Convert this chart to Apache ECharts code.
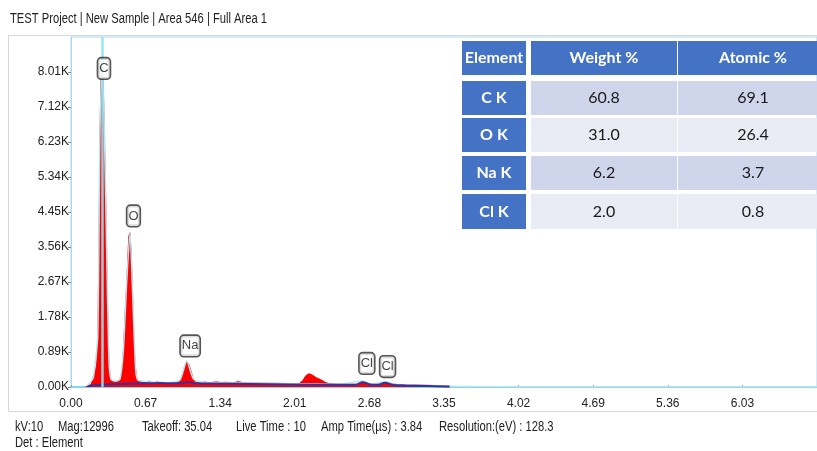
<!DOCTYPE html>
<html>
<head>
<meta charset="utf-8">
<script src="https://cdn.jsdelivr.net/npm/echarts@6/dist/echarts.min.js"></script>
<style>
  html, body { margin: 0; padding: 0; background: #fff; }
  #chart { width: 817px; height: 451px; }
</style>
</head>
<body>
<div id="chart"></div>
<script>
// ---- Spectrum data (energy in keV, intensity in counts) ----
const spectrum = [
  [0.13, 0], [0.14, 20], [0.16, 35], [0.18, 70], [0.19, 160], [0.20, 260], [0.21, 340], [0.22, 300],
  [0.23, 560], [0.24, 1200], [0.25, 3200], [0.26, 6400], [0.27, 7900], [0.28, 8100], [0.29, 7700],
  [0.30, 6400], [0.31, 5000], [0.32, 3400], [0.33, 1800], [0.34, 700], [0.35, 300], [0.36, 180],
  [0.38, 140], [0.40, 130], [0.42, 145], [0.44, 190], [0.45, 260], [0.46, 500], [0.47, 900],
  [0.48, 1500], [0.49, 2100], [0.50, 2600], [0.51, 3300], [0.52, 3850], [0.53, 3920], [0.54, 3400],
  [0.55, 2600], [0.56, 1700], [0.57, 900], [0.58, 450], [0.59, 240], [0.60, 170], [0.62, 150],
  [0.65, 135], [0.68, 125], [0.70, 150], [0.72, 120], [0.75, 115], [0.78, 130], [0.80, 105],
  [0.83, 115], [0.86, 100], [0.90, 105], [0.93, 95], [0.96, 110], [0.98, 170], [1.00, 320],
  [1.02, 520], [1.04, 640], [1.06, 570], [1.08, 380], [1.10, 190], [1.12, 115], [1.15, 110],
  [1.20, 125], [1.25, 105], [1.30, 130], [1.35, 115], [1.40, 120], [1.45, 100], [1.50, 135],
  [1.55, 110], [1.60, 105], [1.70, 100], [1.80, 95], [1.90, 90], [2.00, 85], [2.05, 90],
  [2.08, 160], [2.11, 290], [2.14, 340], [2.17, 300], [2.20, 240], [2.24, 190], [2.28, 125],
  [2.32, 80], [2.40, 70], [2.50, 65], [2.58, 70], [2.62, 140], [2.66, 90], [2.72, 65], [2.78, 70],
  [2.82, 130], [2.86, 80], [2.95, 60], [3.05, 50], [3.15, 45], [3.25, 40], [3.32, 30], [3.36, 5],
  [3.40, 0]
];

// Fitted envelope drawn over the measured counts
const fitCurve = [
  [0.15, 40], [0.20, 240], [0.24, 1300], [0.26, 6500], [0.28, 8150], [0.30, 6500], [0.32, 3500],
  [0.34, 720], [0.36, 190], [0.40, 150], [0.44, 200], [0.47, 920], [0.50, 2650], [0.53, 3950],
  [0.55, 2650], [0.58, 470], [0.60, 180], [0.70, 130], [0.90, 110], [0.98, 180], [1.04, 660],
  [1.10, 200], [1.20, 110], [1.60, 100], [2.00, 85], [2.40, 70], [2.62, 150], [2.70, 70],
  [2.82, 140], [2.90, 65], [3.20, 40], [3.60, 10], [4.50, 5], [6.70, 5]
];

// Continuum (background) estimate
const background = [
  [0.15, 20], [0.20, 40], [0.30, 60], [0.40, 70], [0.50, 80], [0.60, 90], [0.70, 95], [0.80, 100],
  [0.90, 95], [1.00, 95], [1.04, 130], [1.10, 95], [1.30, 85], [1.60, 75], [2.00, 65], [2.40, 55],
  [2.55, 55], [2.62, 120], [2.70, 55], [2.76, 55], [2.82, 110], [2.90, 50], [3.00, 40], [3.20, 25],
  [3.40, 10]
];

// Element line labels: [energy, label height, symbol]
const peakLabels = [
  [0.296, 8100, 'C'],
  [0.561, 4350, 'O'],
  [1.070, 1045, 'Na'],
  [2.657, 600, 'Cl'],
  [2.843, 520, 'Cl']
];
const carbonLine = 0.279;

// Axis ticks
const xTickStep = 0.67;
const yTickStep = 890;
const xMax = 6.70;
const yMax = 8900;

// Quantification table
const tableHeader = ['Element', 'Weight %', 'Atomic %'];
const elements = ['C K', 'O K', 'Na K', 'Cl K'];
const weightPct = [60.8, 31.0, 6.2, 2.0];
const atomicPct = [69.1, 26.4, 3.7, 0.8];

// Acquisition info
const titleText = 'TEST Project | New Sample | Area 546 | Full Area 1';
const acqInfo = ['kV:10', 'Mag:12996', 'Takeoff: 35.04', 'Live Time : 10', 'Amp Time(µs) : 3.84', 'Resolution:(eV) : 128.3'];
const detInfo = 'Det : Element';

const SANS = "'Liberation Sans', Arial, sans-serif";
const TABLE_FONT = "Lato, 'Open Sans', sans-serif";
const CONDENSE = 0.8;   // horizontal squeeze for the narrow header/footer type

// ---- Table graphics ----
const tbl = [];
const colX = [462, 531, 678];
const colW = [64, 146, 150];
const headY = 41, headH = 34;
const rowY = [81, 118, 156, 194];
const rowH = [34, 34, 34, 35];
const BLUE = '#4472C4';
const rowFill = ['#CFD5EA', '#E9EBF5', '#CFD5EA', '#E9EBF5'];

tableHeader.forEach((h, c) => {
  tbl.push({ type: 'rect', shape: { x: colX[c], y: headY, width: colW[c], height: headH }, style: { fill: BLUE } });
  tbl.push({ type: 'text', x: colX[c] + colW[c] / 2, y: headY + headH / 2,
    style: { text: h, fill: '#fff', font: 'bold 16px ' + TABLE_FONT, align: 'center', verticalAlign: 'middle' } });
});
elements.forEach((el, r) => {
  const cells = [el, weightPct[r].toFixed(1), atomicPct[r].toFixed(1)];
  cells.forEach((txt, c) => {
    tbl.push({ type: 'rect', shape: { x: colX[c], y: rowY[r], width: colW[c], height: rowH[r] },
      style: { fill: c === 0 ? BLUE : rowFill[r] } });
    tbl.push({ type: 'text', x: colX[c] + colW[c] / 2, y: rowY[r] + rowH[r] / 2,
      style: { text: txt, fill: c === 0 ? '#fff' : '#1a1a1a',
        font: (c === 0 ? 'bold 16px ' : '16px ') + TABLE_FONT, align: 'center', verticalAlign: 'middle' } });
  });
});

// Narrow text helper (condensed horizontally around its left edge)
function narrowText(text, x, y) {
  return { type: 'text', x: x, y: y, scaleX: CONDENSE,
    style: { text: text, fill: '#222', font: '14px ' + SANS, verticalAlign: 'middle' } };
}

const infoX = [15, 58, 142, 236, 321, 439];
const infoTexts = acqInfo.map((t, i) => narrowText(t, infoX[i], 427));

const chart = echarts.init(document.getElementById('chart'), null, { renderer: 'canvas' });

chart.setOption({
  animation: false,
  backgroundColor: '#fff',
  grid: {
    left: 71, top: 37, width: 758, height: 350,
    show: true, borderColor: '#a9d9ee', borderWidth: 1, backgroundColor: 'transparent'
  },
  xAxis: {
    type: 'value', min: 0, max: xMax, interval: xTickStep,
    axisLine: { show: true, lineStyle: { color: '#7fd6ee', width: 2 } },
    axisTick: { show: true, inside: true, length: 2, lineStyle: { color: '#999' } },
    splitLine: { show: false },
    axisLabel: {
      color: '#222', fontFamily: SANS, fontSize: 12, margin: 11,
      formatter: v => v.toFixed(2), showMaxLabel: false
    }
  },
  yAxis: {
    type: 'value', min: 0, max: yMax, interval: yTickStep,
    axisLine: { show: true, lineStyle: { color: '#a9d9ee', width: 1 } },
    axisTick: { show: true, length: 3, lineStyle: { color: '#888' } },
    splitLine: { show: false },
    axisLabel: {
      color: '#222', fontFamily: SANS, fontSize: 12, margin: 2,
      formatter: v => (v / 1000).toFixed(2) + 'K', showMaxLabel: false
    }
  },
  series: [
    {
      name: 'Counts', type: 'line', data: spectrum, symbol: 'none',
      lineStyle: { color: '#ff0000', width: 1 },
      areaStyle: { color: '#ff0000', opacity: 1 },
      z: 2
    },
    {
      name: 'Fit', type: 'line', data: fitCurve, symbol: 'none', smooth: 0.2,
      lineStyle: { color: '#b6e6ef', width: 1.5 },
      markLine: {
        silent: true, symbol: 'none', label: { show: false },
        lineStyle: { color: '#8fe3f2', width: 2.5, type: 'solid', opacity: 0.9 },
        data: [{ xAxis: carbonLine }]
      },
      z: 3
    },
    {
      name: 'Background', type: 'line', data: background, symbol: 'none', smooth: 0.3,
      lineStyle: { color: '#3a2fa0', width: 2 },
      z: 4
    },
    {
      name: 'Lines', type: 'scatter', symbolSize: 0, z: 6,
      data: peakLabels.map(p => ({ value: [p[0], p[1]], name: p[2] })),
      label: {
        show: true, position: 'inside', formatter: p => p.name,
        color: '#111', fontFamily: SANS, fontSize: 13,
        backgroundColor: '#fff', borderColor: '#2a2a2a', borderWidth: 1.6, borderRadius: 3,
        padding: [4, 1, 3, 1]
      }
    }
  ],
  graphic: [
    // outer panel frame
    { type: 'rect', shape: { x: 8.5, y: 35.5, width: 830, height: 376 },
      style: { fill: 'none', stroke: '#d6d6d6', lineWidth: 1 }, z: -10 },
    narrowText(titleText, 10, 19),
    ...infoTexts,
    narrowText(detInfo, 15, 443),
    ...tbl
  ]
});
</script>
</body>
</html>
